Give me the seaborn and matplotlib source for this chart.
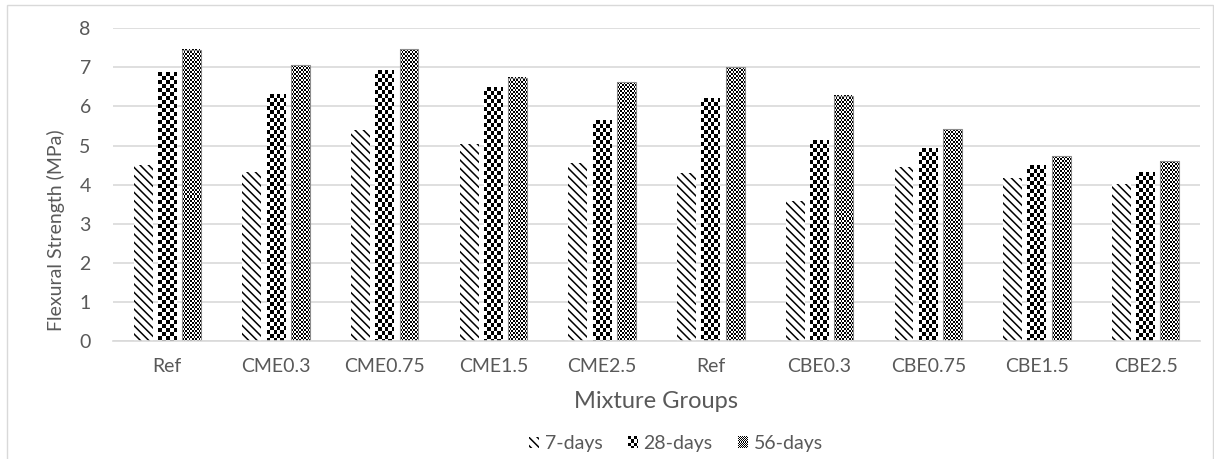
import numpy as np
import pandas as pd
import matplotlib
matplotlib.use("Agg")
import matplotlib.pyplot as plt
import seaborn as sns
from matplotlib.patches import Rectangle
from matplotlib.legend_handler import HandlerBase
from matplotlib.image import BboxImage
from matplotlib.transforms import Bbox, TransformedBbox

# Mixture groups (the reference mix appears in both series)
groups = ["Ref", "CME0.3", "CME0.75", "CME1.5", "CME2.5",
          "Ref", "CBE0.3", "CBE0.75", "CBE1.5", "CBE2.5"]
ages = ["7-days", "28-days", "56-days"]

# Flexural strength (MPa)
days7 = [4.51, 4.32, 5.40, 5.03, 4.56, 4.29, 3.58, 4.46, 4.16, 4.02]
days28 = [6.88, 6.31, 6.91, 6.49, 5.65, 6.20, 5.14, 4.93, 4.48, 4.31]
days56 = [7.45, 7.06, 7.46, 6.74, 6.62, 7.00, 6.27, 5.42, 4.73, 4.60]

TEXT = "#595959"
GRID = "#d9d9d9"
DPI = 100
DIAG = "\\\\\\\\"

sns.set_theme(style="white")
plt.rcParams["font.family"] = ["Lato", "DejaVu Sans"]
plt.rcParams["hatch.linewidth"] = 1.1

df = pd.DataFrame({
    "slot": np.tile(np.arange(len(groups)), 3),
    "age": np.repeat(ages, len(groups)),
    "strength": days7 + days28 + days56,
})

fig = plt.figure(figsize=(12.14, 4.59), dpi=DPI)
ax = fig.add_axes([113 / 1214, 1 - 341 / 459, 1087 / 1214, (341 - 28.3) / 459])

sns.barplot(data=df, x="slot", y="strength", hue="age", hue_order=ages,
            palette=["white"] * 3, width=0.67, gap=0.22, errorbar=None,
            legend=False, ax=ax, linewidth=0, saturation=1)

ax.set_ylim(0, 8)
ax.set_yticks(range(0, 9))
ax.set_xticks(range(len(groups)))
ax.set_xticklabels(groups)
ax.set_axisbelow(True)
ax.grid(axis="y", color=GRID, linewidth=1.2)
ax.grid(axis="x", visible=False)
for s in ["top", "right", "left"]:
    ax.spines[s].set_visible(False)
ax.spines["bottom"].set_color(GRID)
ax.spines["bottom"].set_linewidth(1.2)
ax.tick_params(axis="both", length=0, labelsize=14, labelcolor=TEXT)
ax.tick_params(axis="y", pad=16)
ax.tick_params(axis="x", pad=12)
ax.set_xlabel("Mixture Groups", fontsize=17, color=TEXT, labelpad=12)
ax.set_ylabel("Flexural Strength (MPa)", fontsize=14, color=TEXT)
ax.yaxis.set_label_coords(-0.044, 0.355)


def checker_tex(cell):
    def make(nx, ny):
        r, c = np.mgrid[0:ny, 0:nx]
        return ((r // cell + c // cell) % 2) == 0
    return make


def to_rgb(mask, dark=(0.0, 0.0, 0.0)):
    img = np.ones(mask.shape + (3,))
    img[mask] = dark
    return img


# 7-days: diagonal hatch; 28-days / 56-days: large and small checkerboards
for p in ax.containers[0].patches:
    p.set_facecolor("white")
    p.set_edgecolor("black")
    p.set_linewidth(0)
    p.set_hatch(DIAG)

textures = {1: checker_tex(4), 2: checker_tex(2)}
xlim, ylim = ax.get_xlim(), ax.get_ylim()
fig.canvas.draw()
for idx, tex in textures.items():
    for p in ax.containers[idx].patches:
        bb = p.get_window_extent()
        nx, ny = max(int(round(bb.width)), 1), max(int(round(bb.height)), 1)
        x0, w, h = p.get_x(), p.get_width(), p.get_height()
        ax.imshow(to_rgb(tex(nx, ny)), extent=(x0, x0 + w, 0, h),
                  origin="upper", interpolation="nearest", aspect="auto",
                  zorder=p.get_zorder() - 0.05)
        p.set_facecolor("none")
        if idx == 2:
            p.set_edgecolor("#8c8c8c")
            p.set_linewidth(0.8)
ax.set_xlim(xlim)
ax.set_ylim(ylim)


class TextureHandler(HandlerBase):
    def __init__(self, maker):
        super().__init__()
        self.maker = maker

    def create_artists(self, legend, orig_handle, xdescent, ydescent,
                       width, height, fontsize, trans):
        box = Bbox.from_bounds(-xdescent, -ydescent, width, height)
        im = BboxImage(TransformedBbox(box, trans), interpolation="nearest",
                       origin="upper")
        nx = max(int(round(width * DPI / 72)), 1)
        ny = max(int(round(height * DPI / 72)), 1)
        im.set_data(to_rgb(self.maker(nx, ny)))
        return [im]


h7 = Rectangle((0, 0), 1, 1, facecolor="white", edgecolor="black",
               linewidth=0, hatch=DIAG)
h28 = Rectangle((0, 0), 1, 1)
h56 = Rectangle((0, 0), 1, 1)
hmap = {h28: TextureHandler(checker_tex(3)), h56: TextureHandler(checker_tex(1))}
fig.legend([h7, h28, h56], ages, handler_map=hmap, loc="center",
           bbox_to_anchor=(676 / 1214, 1 - 444 / 459), ncol=3, frameon=False,
           fontsize=14, labelcolor=TEXT, handlelength=0.5, handleheight=0.5,
           handletextpad=0.3, columnspacing=1.3)

fig.add_artist(Rectangle((7 / 1214, -0.01), 1 - 8 / 1214, 1 - 5 / 459 + 0.01,
                         transform=fig.transFigure, fill=False,
                         edgecolor=GRID, linewidth=1))

fig.savefig("out.png", dpi=DPI)
